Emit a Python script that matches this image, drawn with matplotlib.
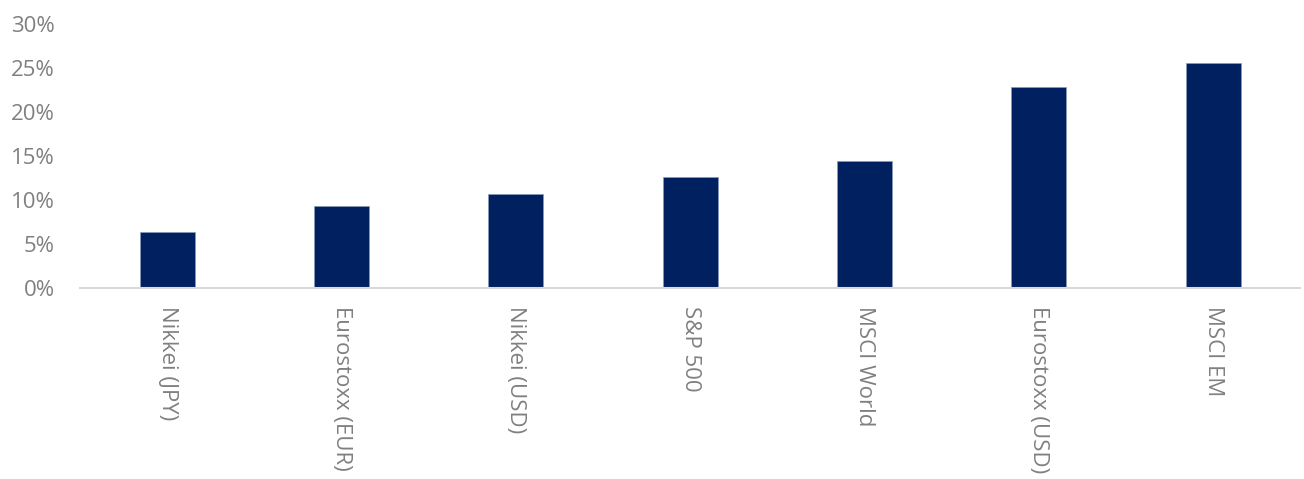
import numpy as np
import matplotlib.pyplot as plt
from matplotlib.ticker import PercentFormatter

categories = ["Nikkei (JPY)", "Eurostoxx (EUR)", "Nikkei (USD)", "S&P 500",
              "MSCI World", "Eurostoxx (USD)", "MSCI EM"]
values = [6.4, 9.3, 10.7, 12.6, 14.4, 22.9, 25.6]
yticks = [0, 5, 10, 15, 20, 25, 30]

navy = "#002060"
grey = "#808080"

plt.rcParams["font.family"] = ["Open Sans", "DejaVu Sans"]

fig = plt.figure(figsize=(13.04, 4.79), dpi=100)
ax = fig.add_axes([0.0613, 0.398, 0.936, 0.552])

x = np.arange(len(categories))
ax.bar(x, values, width=0.315, color=navy, edgecolor="#8a9ab8", linewidth=0.5)

ax.set_xlim(-0.5, len(categories) - 0.5)
ax.set_ylim(0, 30)
ax.set_yticks(yticks)
ax.yaxis.set_major_formatter(PercentFormatter(decimals=0))
ax.set_xticks(x)
ax.set_xticklabels(categories, rotation=-90, va="top", ha="center")

for s in ["top", "right", "left"]:
    ax.spines[s].set_visible(False)
ax.spines["bottom"].set_color("#d9d9d9")
ax.spines["bottom"].set_linewidth(1.5)

ax.tick_params(axis="both", length=0, colors=grey, labelsize=16)
ax.tick_params(axis="x", pad=13)
ax.tick_params(axis="y", pad=18)

fig.savefig("out.png", dpi=100, facecolor="white")
